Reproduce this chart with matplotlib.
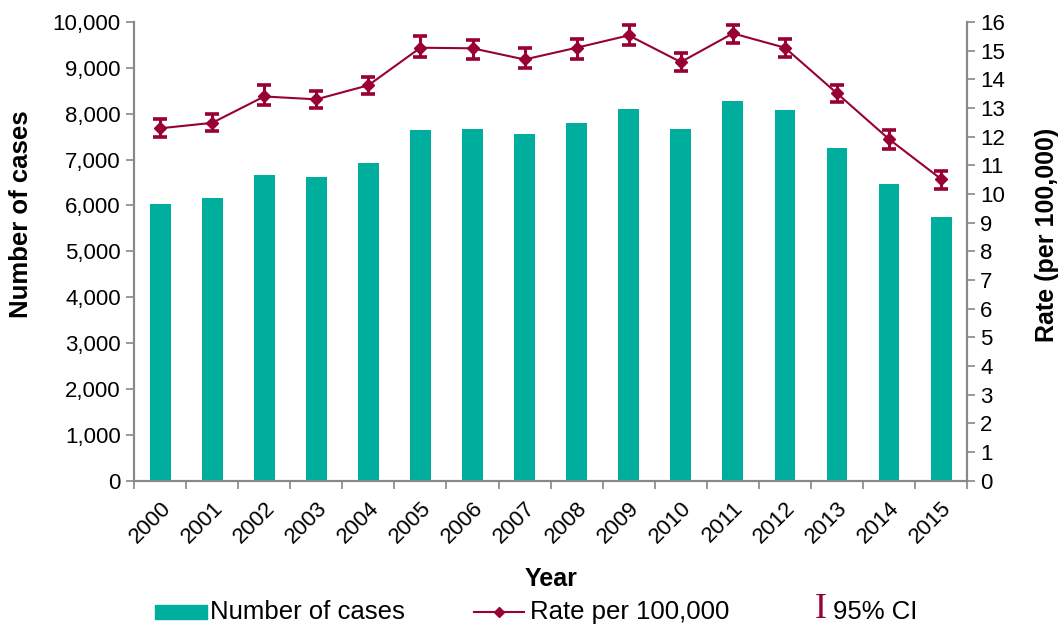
import matplotlib.pyplot as plt
from matplotlib.lines import Line2D
from matplotlib.patches import Rectangle
import numpy as np

plt.rcParams['font.family'] = ['Liberation Sans', 'DejaVu Sans']

years = ['2000', '2001', '2002', '2003', '2004', '2005', '2006', '2007',
         '2008', '2009', '2010', '2011', '2012', '2013', '2014', '2015']
cases = [6040, 6166, 6667, 6623, 6921, 7647, 7669, 7567,
         7800, 8105, 7669, 8272, 8076, 7255, 6471, 5752]
rate = [12.29, 12.48, 13.40, 13.30, 13.79, 15.10, 15.08, 14.69,
        15.10, 15.53, 14.60, 15.60, 15.10, 13.51, 11.91, 10.52]
ci_low = [12.00, 12.20, 13.10, 12.99, 13.48, 14.77, 14.70, 14.38,
          14.70, 15.19, 14.28, 15.28, 14.79, 13.19, 11.57, 10.19]
ci_high = [12.61, 12.80, 13.79, 13.60, 14.09, 15.50, 15.37, 15.09,
           15.40, 15.89, 14.91, 15.89, 15.40, 13.81, 12.22, 10.80]

teal = '#00AE9D'
red = '#990033'
grey = '#888888'

W, H = 1064, 626
fig = plt.figure(figsize=(W / 100, H / 100), dpi=100)
ax = fig.add_axes([0.126, 0.232, 0.783, 0.733])
ax2 = ax.twinx()

x = np.arange(len(years))
ax.bar(x, cases, width=0.4, color=teal, zorder=2)

yerr = [np.array(rate) - np.array(ci_low), np.array(ci_high) - np.array(rate)]
ax2.errorbar(x, rate, yerr=yerr, color=red, lw=1.5, marker='D', ms=6,
             capsize=5, capthick=2.6, elinewidth=2.2, zorder=3)

ax.set_xlim(-0.5, len(years) - 0.5)
ax.set_ylim(0, 10000)
ax.set_yticks(range(0, 10001, 1000))
ax.set_yticklabels([f'{v:,}' for v in range(0, 10001, 1000)], fontsize=16)
ax2.set_ylim(0, 16)
ax2.set_yticks(range(0, 17))
ax2.tick_params(axis='y', labelsize=16, length=6, color=grey, width=1.2)

ax.set_xticks(x)
ax.set_xticklabels(years, rotation=45, ha='right', rotation_mode='anchor', fontsize=16)
ax.set_xticks(np.arange(-0.5, len(years)), minor=True)
ax.tick_params(axis='x', which='major', length=0, pad=12)
ax.tick_params(axis='x', which='minor', length=6, color=grey, width=1.2)
ax.tick_params(axis='y', length=6, color=grey, width=1.2)

for a in (ax, ax2):
    a.spines['top'].set_visible(False)
    for s in ('left', 'right', 'bottom'):
        a.spines[s].set_color(grey)
        a.spines[s].set_linewidth(1.5)

ax.set_xlabel('Year', fontsize=18, fontweight='bold', labelpad=14)
ax.set_ylabel('Number of cases', fontsize=18.5, fontweight='bold')
ax.yaxis.set_label_coords(-0.121, 0.58)
ax2.set_ylabel('Rate (per 100,000)', fontsize=18, fontweight='bold', rotation=90)
ax2.yaxis.set_label_coords(1.082, 0.536)

# legend row drawn by hand to match the original placement
ly = (H - 612) / H
fig.add_artist(Rectangle((155 / W, (H - 619) / H), 52 / W, 14 / H,
                         transform=fig.transFigure, color=teal))
fig.text(210 / W, ly, 'Number of cases', fontsize=18.5, va='center', ha='left')
fig.add_artist(Line2D([474 / W, 524 / W], [ly, ly], transform=fig.transFigure,
                      color=red, lw=1.5))
fig.add_artist(Line2D([499 / W], [ly], transform=fig.transFigure,
                      color=red, marker='D', ms=5))
fig.text(530 / W, ly, 'Rate per 100,000', fontsize=18.5, va='center', ha='left')
fig.text(815 / W, ly + 0.004, 'I', family='Liberation Serif', color=red,
         fontsize=26, va='center', ha='left')
fig.text(833 / W, ly, '95% CI', fontsize=18.5, va='center', ha='left')

fig.savefig('out.png', dpi=100)
